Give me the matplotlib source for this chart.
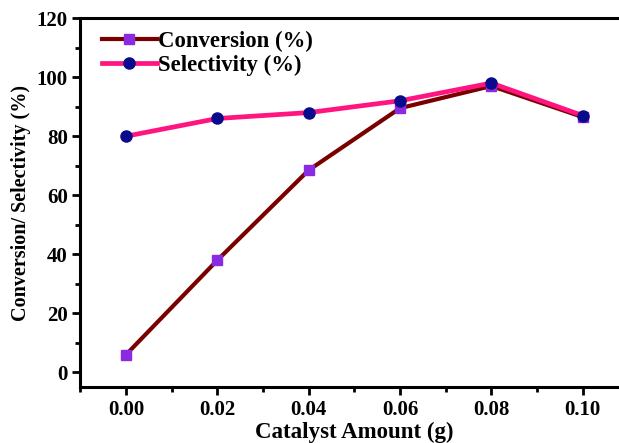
import matplotlib
matplotlib.use("Agg")
import matplotlib.pyplot as plt

catalyst = [0.00, 0.02, 0.04, 0.06, 0.08, 0.10]
conversion = [6, 38, 68.5, 89.5, 97, 86.5]
selectivity = [80, 86, 88, 92, 98, 87]
xticks = [0.00, 0.02, 0.04, 0.06, 0.08, 0.10]
xticklabels = ["0.00", "0.02", "0.04", "0.06", "0.08", "0.10"]
yticks = [0, 20, 40, 60, 80, 100, 120]

plt.rcParams['font.family'] = ['Liberation Serif']
plt.rcParams['font.weight'] = 'bold'

fig = plt.figure(figsize=(6.19, 4.43), dpi=100)
ax = fig.add_axes([0.130, 0.1264, 0.885, 0.8326])

ax.plot(catalyst, conversion, color='#7A0000', lw=3.0, marker='s', ms=6.5,
        mfc='#8A2BE2', mec='#8A2BE2', label='Conversion (%)', zorder=2)
ax.plot(catalyst, selectivity, color='#FF1480', lw=3.4, marker='o', ms=8,
        mfc='#0A0A8C', mec='#0A0A8C', label='Selectivity (%)', zorder=3)

ax.set_xlim(-0.01, 0.11)
ax.set_ylim(-5, 120)
ax.set_xticks(xticks)
ax.set_xticklabels(xticklabels)
ax.set_yticks(yticks)
ax.set_xticks([-0.01, 0.01, 0.03, 0.05, 0.07, 0.09, 0.11], minor=True)
ax.set_yticks([10, 30, 50, 70, 90, 110], minor=True)
ax.tick_params(axis='both', which='major', direction='out', length=6, width=2, labelsize=15)
ax.tick_params(axis='y', which='major', pad=3)
ax.tick_params(axis='both', which='minor', direction='out', length=3.5, width=2)
for lab in ax.get_xticklabels() + ax.get_yticklabels():
    lab.set_fontweight('bold')
for s in ax.spines.values():
    s.set_linewidth(2.2)

ax.set_xlabel('Catalyst Amount (g)', fontsize=16.5, fontweight='bold', labelpad=1)
ax.set_ylabel('Conversion/ Selectivity (%)', fontsize=14.5, fontweight='bold', labelpad=4)

h, l = ax.get_legend_handles_labels()
ax.legend(h, l, loc='upper left', bbox_to_anchor=(0.012, 1.005),
          frameon=False, prop={'size': 16.4, 'weight': 'bold'}, handlelength=2.4,
          handletextpad=0.08, labelspacing=0.12, borderaxespad=0.25, borderpad=0.4)

fig.savefig('out.png', dpi=100)
